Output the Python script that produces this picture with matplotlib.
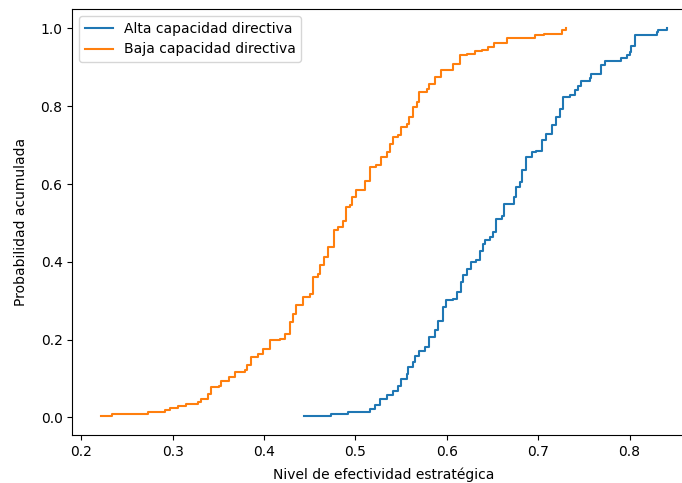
import matplotlib
matplotlib.use("Agg")
import matplotlib.pyplot as plt

labels = ["Alta capacidad directiva", "Baja capacidad directiva"]

alta_x = [0.444, 0.473, 0.492, 0.516, 0.521, 0.527, 0.534, 0.541, 0.547, 0.550,
          0.556, 0.558, 0.563, 0.565, 0.570, 0.576, 0.581, 0.587, 0.590, 0.596,
          0.599, 0.607, 0.611, 0.616, 0.618, 0.622, 0.627, 0.632, 0.636, 0.640,
          0.642, 0.647, 0.651, 0.654, 0.660, 0.663, 0.673, 0.676, 0.680, 0.682,
          0.687, 0.693, 0.698, 0.704, 0.709, 0.715, 0.720, 0.724, 0.727, 0.735,
          0.740, 0.744, 0.747, 0.757, 0.758, 0.769, 0.773, 0.791, 0.797, 0.800,
          0.802, 0.806, 0.830, 0.831, 0.841]
alta_y = [0.005, 0.010, 0.015, 0.022, 0.031, 0.048, 0.057, 0.069, 0.082, 0.099,
          0.112, 0.129, 0.142, 0.159, 0.172, 0.181, 0.206, 0.224, 0.249, 0.284,
          0.303, 0.305, 0.322, 0.348, 0.365, 0.382, 0.399, 0.404, 0.429, 0.446,
          0.457, 0.465, 0.476, 0.511, 0.519, 0.549, 0.566, 0.592, 0.605, 0.635,
          0.669, 0.682, 0.686, 0.712, 0.729, 0.751, 0.772, 0.794, 0.823, 0.828,
          0.841, 0.853, 0.866, 0.873, 0.883, 0.905, 0.916, 0.924, 0.931, 0.939,
          0.956, 0.982, 0.990, 0.996, 1.000]

baja_x = [0.221, 0.233, 0.273, 0.291, 0.297, 0.306, 0.315, 0.328, 0.331, 0.339,
          0.342, 0.351, 0.353, 0.361, 0.368, 0.379, 0.381, 0.386, 0.393, 0.399,
          0.406, 0.417, 0.423, 0.428, 0.432, 0.435, 0.443, 0.450, 0.454, 0.459,
          0.461, 0.466, 0.470, 0.476, 0.481, 0.486, 0.490, 0.494, 0.496, 0.501,
          0.510, 0.516, 0.523, 0.528, 0.534, 0.538, 0.541, 0.547, 0.550, 0.556,
          0.559, 0.563, 0.567, 0.570, 0.578, 0.581, 0.587, 0.594, 0.607, 0.614,
          0.622, 0.631, 0.638, 0.645, 0.652, 0.666, 0.696, 0.706, 0.726, 0.731]
baja_y = [0.005, 0.010, 0.015, 0.020, 0.025, 0.029, 0.035, 0.039, 0.048, 0.061,
          0.078, 0.082, 0.095, 0.104, 0.117, 0.121, 0.134, 0.155, 0.164, 0.177,
          0.198, 0.202, 0.215, 0.245, 0.266, 0.288, 0.309, 0.318, 0.361, 0.369,
          0.391, 0.412, 0.438, 0.481, 0.489, 0.506, 0.541, 0.545, 0.566, 0.584,
          0.609, 0.643, 0.650, 0.669, 0.682, 0.703, 0.721, 0.725, 0.746, 0.755,
          0.772, 0.798, 0.811, 0.836, 0.845, 0.858, 0.875, 0.892, 0.909, 0.931,
          0.935, 0.942, 0.945, 0.952, 0.962, 0.976, 0.982, 0.985, 0.995, 1.000]

fig = plt.figure(figsize=(6.82, 4.83), dpi=100)
ax = fig.add_axes([72.3 / 682, 48 / 483, 623 / 682, 426 / 483])

ax.step(alta_x, alta_y, where="post", color="#1f77b4", label=labels[0])
ax.step(baja_x, baja_y, where="post", color="#ff7f0e", label=labels[1])

ax.set_xlim(0.190, 0.872)
ax.set_ylim(-0.045, 1.05)
ax.set_xticks([0.2, 0.3, 0.4, 0.5, 0.6, 0.7, 0.8])
ax.set_yticks([0.0, 0.2, 0.4, 0.6, 0.8, 1.0])
ax.set_xlabel("Nivel de efectividad estratégica", labelpad=6)
ax.set_ylabel("Probabilidad acumulada", labelpad=9)
ax.legend(loc="upper left")

fig.savefig("out.png", dpi=100)
